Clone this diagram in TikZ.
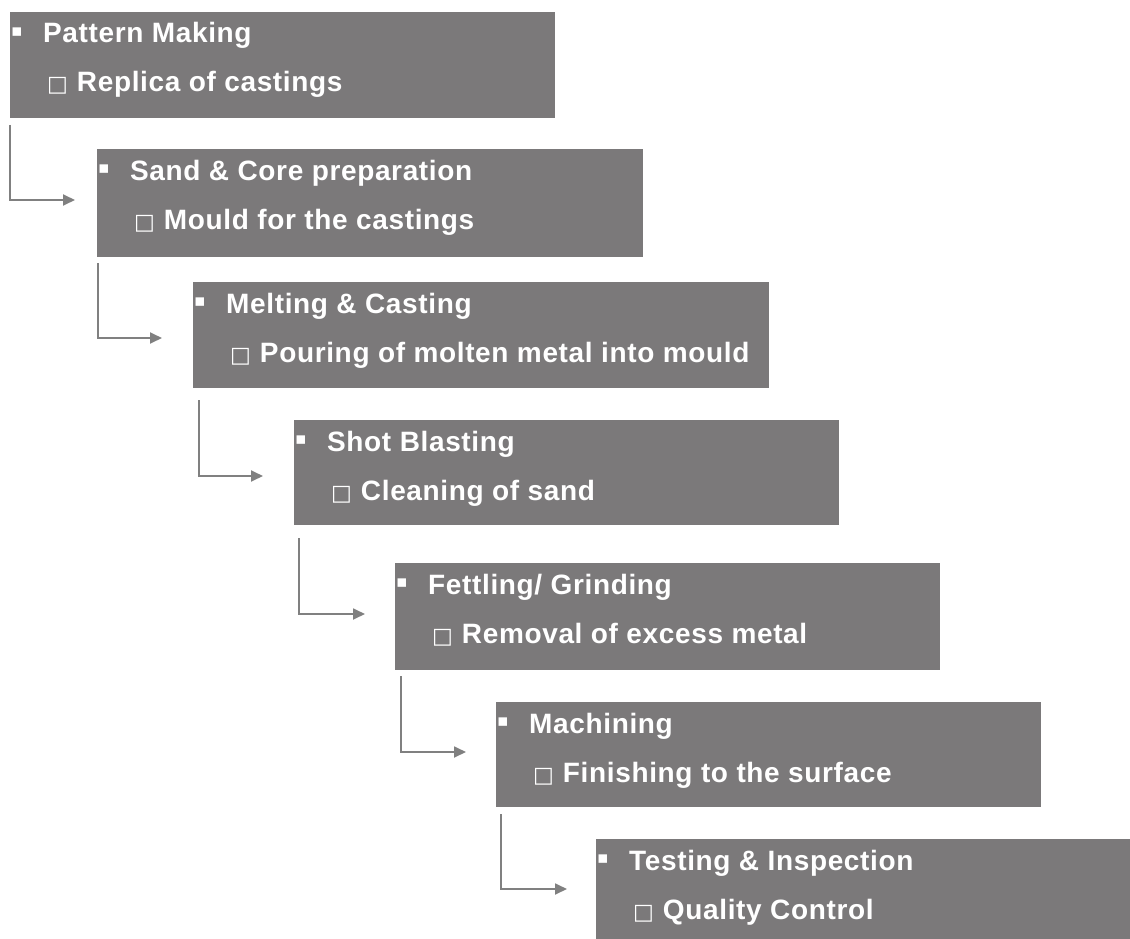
\documentclass[tikz,border=0pt]{standalone}
\usepackage{fontspec}
\setmainfont{Liberation Sans}
\newfontfamily\labelfont[LetterSpace=2.3]{Liberation Sans}
\newfontfamily\symfont{DejaVu Sans}
\usetikzlibrary{arrows.meta}

\definecolor{boxgray}{HTML}{7B797A}
\definecolor{linegray}{HTML}{808080}

\tikzset{
  stagebox/.style={fill=boxgray, draw=none, anchor=north west, inner sep=0pt, outer sep=0pt},
  headtext/.style={anchor=base west, text=white, inner sep=0pt,
    font=\labelfont\fontsize{28}{28}\selectfont\bfseries},
  marktext/.style={anchor=center, text=white, inner sep=0pt,
    font=\fontsize{17}{17}\selectfont\symfont},
  flow/.style={draw=linegray, line width=1.8pt,
    -{Triangle[length=12pt,width=11pt]}},
}

% one process step: name, left, top, right, bottom, heading, detail
\newcommand\flowstage[7]{%
  \node[stagebox, minimum width=#4pt-#2pt, minimum height=#5pt-#3pt] (#1) at (#2,#3) {};
  \node[marktext] (#1-mark) at ([xshift=7pt,yshift=-20pt]#1.north west) {▪};
  \node[headtext] (#1-head) at ([xshift=33pt,yshift=-31pt]#1.north west) {#6};
  \node[headtext] (#1-detail) at ([xshift=37pt,yshift=-80pt]#1.north west)
    {{\symfont\fontsize{22}{22}\selectfont □}\hspace{9pt}#7};
}

\begin{document}
\begin{tikzpicture}[x=1pt,y=-1pt]
  \useasboundingbox (0,0) rectangle (1130,939);
  \clip (0,0) rectangle (1130,939);

  \flowstage{s1}{10}{12}{555}{118}{Pattern Making}{Replica of castings}
  \flowstage{s2}{97}{149}{643}{257}{Sand \& Core preparation}{Mould for the castings}
  \flowstage{s3}{193}{282}{769}{388}{Melting \& Casting}{Pouring of molten metal into mould}
  \flowstage{s4}{294}{420}{839}{525}{Shot Blasting}{Cleaning of sand}
  \flowstage{s5}{395}{563}{940}{670}{Fettling/ Grinding}{Removal of excess metal}
  \flowstage{s6}{496}{702}{1041}{807}{Machining}{Finishing to the surface}
  \flowstage{s7}{596}{839}{1150}{960}{Testing \& Inspection}{Quality Control}

  % elbow connectors between consecutive steps
  \draw[flow] ([xshift=0pt,yshift=-7pt]s1.south west)  |- ([xshift=-22pt,yshift=-51pt]s2.north west);
  \draw[flow] ([xshift=1pt,yshift=-6pt]s2.south west)  |- ([xshift=-31pt,yshift=-56pt]s3.north west);
  \draw[flow] ([xshift=6pt,yshift=-12pt]s3.south west) |- ([xshift=-31pt,yshift=-56pt]s4.north west);
  \draw[flow] ([xshift=5pt,yshift=-13pt]s4.south west) |- ([xshift=-30pt,yshift=-51pt]s5.north west);
  \draw[flow] ([xshift=6pt,yshift=-6pt]s5.south west)  |- ([xshift=-30pt,yshift=-50pt]s6.north west);
  \draw[flow] ([xshift=5pt,yshift=-7pt]s6.south west)  |- ([xshift=-29pt,yshift=-50pt]s7.north west);
\end{tikzpicture}
\end{document}
